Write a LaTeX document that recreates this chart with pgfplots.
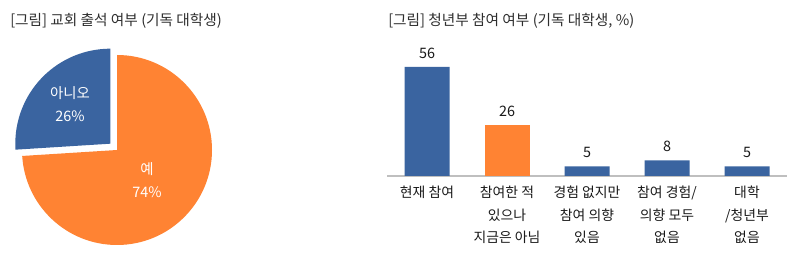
\documentclass[border=0pt]{standalone}
\usepackage{pgfplots}
\pgfplotsset{compat=1.18}
\usepackage{fontspec}
\setmainfont{Noto Sans CJK KR}
\definecolor{barblue}{HTML}{3A64A0}
\definecolor{barorange}{HTML}{FF8333}
\definecolor{txt}{HTML}{1A1A1A}
\definecolor{ttl}{HTML}{2E2E2E}
\definecolor{axgray}{HTML}{BFBFBF}
\begin{document}
\begin{tikzpicture}[x=0.75pt,y=0.75pt]
\fill[white] (0,0) rectangle (800,264);
\node[anchor=west, font=\fontsize{11}{12}\selectfont, text=ttl, inner sep=0] at (10,243) {[그림] 교회 출석 여부 (기독 대학생)};
\node[anchor=west, font=\fontsize{11}{12}\selectfont, text=ttl, inner sep=0] at (388,243) {[그림] 청년부 참여 여부 (기독 대학생, \%)};
% pie chart
\pgfmathsetmacro{\yesval}{74}
\pgfmathsetmacro{\noval}{26}
\pgfmathsetmacro{\yesend}{90-3.6*\yesval}
\pgfmathsetmacro{\noend}{90+3.6*\noval}
\pgfmathsetmacro{\nomid}{90+1.8*\noval}
\begin{axis}[at={(87.75pt,85.5pt)}, anchor=center, x=0.75pt, y=0.75pt,
  xmin=-110, xmax=110, ymin=-110, ymax=110, hide axis, clip=false]
\addplot[draw=none] coordinates {(0,0)};
\fill[barorange] (axis cs:0,0) -- ++(90:71.25pt) arc[start angle=90, end angle=\yesend, radius=71.25pt] -- cycle;
\fill[barblue] ([shift={(\nomid:6.9pt)}]axis cs:0,0) -- ++(90:71.25pt) arc[start angle=90, end angle=\noend, radius=71.25pt] -- cycle;
\node[text=white, align=center, font=\fontsize{10.8}{17.2}\selectfont] at (axis cs:-47,45.5) {아니오\\26\%};
\node[text=white, align=center, font=\fontsize{10.8}{17.2}\selectfont] at (axis cs:30,-30) {예\\74\%};
\end{axis}
% bar chart
\begin{axis}[at={(290.25pt,66pt)}, anchor=south west, scale only axis,
  width=300pt, height=87.6pt, xmin=-0.5, xmax=4.5, ymin=0, ymax=60,
  ybar, bar width=33.75pt, clip=false,
  axis x line=bottom, axis y line=none,
  x axis line style={draw=axgray, line width=0.8pt, -},
  xtick={0,1,2,3,4}, major tick length=0pt,
  xticklabels={{현재 참여},{참여한 적\\있으나\\지금은 아님},{경험 없지만\\참여 의향\\있음},{참여 경험/\\의향 모두\\없음},{대학\\/청년부\\없음}},
  xticklabel style={align=center, font=\fontsize{10.4}{17}\selectfont, text=txt, yshift=-4pt},
  /pgf/number format/assume math mode=true,
  nodes near coords,
  nodes near coords style={font=\fontsize{10.8}{12}\selectfont, text=txt, yshift=3pt},
  ]
\addplot[fill=barblue, draw=none, bar shift=0pt] coordinates {(0,56) (2,5) (3,8) (4,5)};
\addplot[fill=barorange, draw=none, bar shift=0pt] coordinates {(1,26)};
\end{axis}
\pgfresetboundingbox
\useasboundingbox (0,0) rectangle (800,264);
\end{tikzpicture}
\end{document}
